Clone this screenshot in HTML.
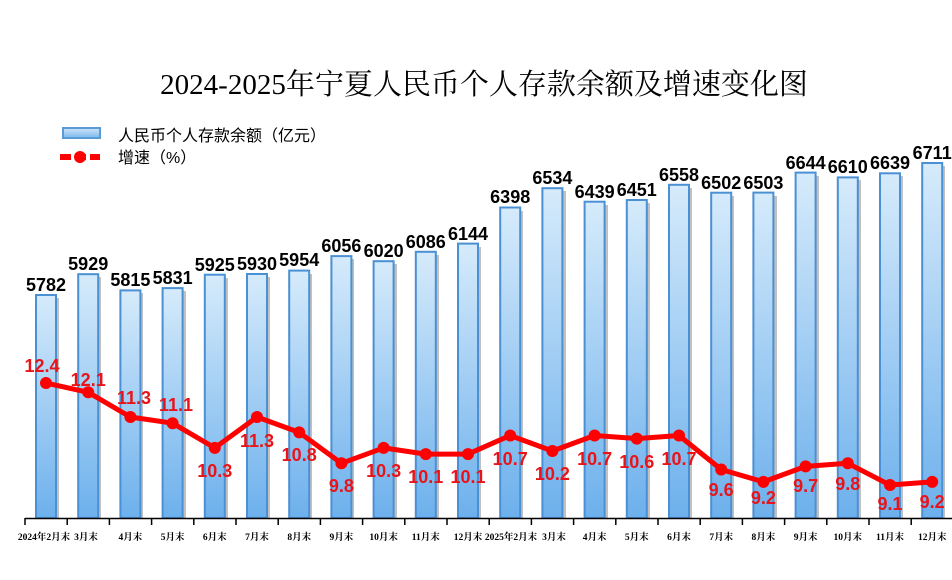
<!DOCTYPE html><html><head><meta charset="utf-8"><style>body{margin:0;background:#fff}svg{display:block}</style></head><body>
<svg width="952" height="580" xmlns="http://www.w3.org/2000/svg">
<defs>
<linearGradient id="g" x1="0" y1="0" x2="0" y2="1"><stop offset="0" stop-color="#d6ebfb"/><stop offset="1" stop-color="#6db0ec"/></linearGradient>
<linearGradient id="lg" x1="0" y1="0" x2="0" y2="1"><stop offset="0" stop-color="#cfe6fa"/><stop offset="1" stop-color="#7ab8ee"/></linearGradient>
</defs>
<text x="484" y="94" text-anchor="middle" font-family="'Liberation Serif','Noto Serif CJK SC',serif" font-size="29" fill="#000">2024-2025年宁夏人民币个人存款余额及增速变化图</text>
<rect x="63" y="128" width="37" height="10" fill="url(#lg)" stroke="#5b9bd5" stroke-width="2"/>
<text x="118" y="141" font-family="'Liberation Sans','Noto Sans CJK SC',sans-serif" font-size="16">人民币个人存款余额（亿元）</text>
<line x1="60" y1="157" x2="100" y2="157" stroke="#f00" stroke-width="6" stroke-dasharray="11,4"/>
<circle cx="80" cy="157" r="6" fill="#f00"/>
<text x="118" y="163" font-family="'Liberation Sans','Noto Sans CJK SC',sans-serif" font-size="16">增速（%）</text>
<g fill="#999" opacity="0.6">
<rect x="39" y="298" width="20" height="220"/><rect x="81" y="277" width="20" height="241"/><rect x="123" y="293" width="20" height="225"/><rect x="166" y="291" width="20" height="227"/><rect x="208" y="278" width="20" height="240"/><rect x="250" y="277" width="20" height="241"/><rect x="292" y="274" width="20" height="244"/><rect x="334" y="259" width="20" height="259"/><rect x="377" y="264" width="20" height="254"/><rect x="419" y="255" width="20" height="263"/><rect x="461" y="247" width="20" height="271"/><rect x="503" y="211" width="20" height="307"/><rect x="546" y="191" width="20" height="327"/><rect x="588" y="205" width="20" height="313"/><rect x="630" y="203" width="20" height="315"/><rect x="672" y="188" width="20" height="330"/><rect x="714" y="196" width="20" height="322"/><rect x="757" y="196" width="20" height="322"/><rect x="799" y="176" width="20" height="342"/><rect x="841" y="180" width="20" height="338"/><rect x="883" y="176" width="20" height="342"/><rect x="925" y="166" width="20" height="352"/>
</g>
<g fill="url(#g)" stroke="#4a90d4" stroke-width="2">
<rect x="36" y="295" width="20" height="223"/><rect x="78.2" y="274.2" width="20" height="243.8"/><rect x="120.4" y="290.4" width="20" height="227.6"/><rect x="162.6" y="288.1" width="20" height="229.9"/><rect x="204.8" y="274.7" width="20" height="243.3"/><rect x="247" y="274" width="20" height="244"/><rect x="289.2" y="270.6" width="20" height="247.4"/><rect x="331.4" y="256.1" width="20" height="261.9"/><rect x="373.6" y="261.2" width="20" height="256.8"/><rect x="415.8" y="251.8" width="20" height="266.2"/><rect x="458" y="243.6" width="20" height="274.4"/><rect x="500.2" y="207.5" width="20" height="310.5"/><rect x="542.4" y="188.2" width="20" height="329.8"/><rect x="584.6" y="201.7" width="20" height="316.3"/><rect x="626.8" y="200" width="20" height="318"/><rect x="669" y="184.8" width="20" height="333.2"/><rect x="711.2" y="192.7" width="20" height="325.3"/><rect x="753.4" y="192.6" width="20" height="325.4"/><rect x="795.6" y="172.6" width="20" height="345.4"/><rect x="837.8" y="177.4" width="20" height="340.6"/><rect x="880" y="173.3" width="20" height="344.7"/><rect x="922.2" y="163" width="20" height="355"/>
</g>
<g font-family="'Liberation Sans',sans-serif" font-size="18" font-weight="bold" text-anchor="middle" fill="#000">
<text x="46" y="291">5782</text><text x="88.2" y="270">5929</text><text x="130.4" y="286">5815</text><text x="172.6" y="284">5831</text><text x="214.8" y="271">5925</text><text x="257" y="270">5930</text><text x="299.2" y="266">5954</text><text x="341.4" y="252">6056</text><text x="383.6" y="257">6020</text><text x="425.8" y="248">6086</text><text x="468" y="240">6144</text><text x="510.2" y="203">6398</text><text x="552.4" y="184">6534</text><text x="594.6" y="198">6439</text><text x="636.8" y="196">6451</text><text x="679" y="181">6558</text><text x="721.2" y="189">6502</text><text x="763.4" y="189">6503</text><text x="805.6" y="169">6644</text><text x="847.8" y="173">6610</text><text x="890" y="169">6639</text><text x="932.2" y="159">6711</text>
</g>
<polyline fill="none" stroke="#f00" stroke-width="5" stroke-linejoin="round" points="46,383 88.2,392.3 130.4,417 172.6,423.2 214.8,447.9 257,417 299.2,432.4 341.4,463.3 383.6,447.9 425.8,454.1 468,454.1 510.2,435.5 552.4,451 594.6,435.5 636.8,438.6 679,435.5 721.2,469.5 763.4,481.9 805.6,466.4 847.8,463.3 890,485 932.2,481.9"/>
<g fill="#f00">
<circle cx="46" cy="383" r="6"/><circle cx="88.2" cy="392.3" r="6"/><circle cx="130.4" cy="417" r="6"/><circle cx="172.6" cy="423.2" r="6"/><circle cx="214.8" cy="447.9" r="6"/><circle cx="257" cy="417" r="6"/><circle cx="299.2" cy="432.4" r="6"/><circle cx="341.4" cy="463.3" r="6"/><circle cx="383.6" cy="447.9" r="6"/><circle cx="425.8" cy="454.1" r="6"/><circle cx="468" cy="454.1" r="6"/><circle cx="510.2" cy="435.5" r="6"/><circle cx="552.4" cy="451" r="6"/><circle cx="594.6" cy="435.5" r="6"/><circle cx="636.8" cy="438.6" r="6"/><circle cx="679" cy="435.5" r="6"/><circle cx="721.2" cy="469.5" r="6"/><circle cx="763.4" cy="481.9" r="6"/><circle cx="805.6" cy="466.4" r="6"/><circle cx="847.8" cy="463.3" r="6"/><circle cx="890" cy="485" r="6"/><circle cx="932.2" cy="481.9" r="6"/>
</g>
<g font-family="'Liberation Sans',sans-serif" font-size="18" font-weight="bold" text-anchor="middle" fill="#e8141a">
<text x="42" y="372">12.4</text><text x="88.2" y="386">12.1</text><text x="134" y="404">11.3</text><text x="176" y="411">11.1</text><text x="214.8" y="477">10.3</text><text x="257" y="447">11.3</text><text x="299.2" y="461">10.8</text><text x="341.4" y="492">9.8</text><text x="383.6" y="477">10.3</text><text x="425.8" y="483">10.1</text><text x="468" y="483">10.1</text><text x="510.2" y="465">10.7</text><text x="552.4" y="480">10.2</text><text x="594.6" y="465">10.7</text><text x="636.8" y="468">10.6</text><text x="679" y="465">10.7</text><text x="721.2" y="496">9.6</text><text x="763.4" y="504">9.2</text><text x="805.6" y="492">9.7</text><text x="847.8" y="490">9.8</text><text x="890" y="510">9.1</text><text x="932.2" y="508">9.2</text>
</g>
<line x1="25" y1="518.5" x2="952" y2="518.5" stroke="#000" stroke-width="1.5"/>
<g stroke="#000" stroke-width="1.5">
<line x1="25" y1="518" x2="25" y2="525"/><line x1="67.2" y1="518" x2="67.2" y2="525"/><line x1="109.4" y1="518" x2="109.4" y2="525"/><line x1="151.6" y1="518" x2="151.6" y2="525"/><line x1="193.8" y1="518" x2="193.8" y2="525"/><line x1="236" y1="518" x2="236" y2="525"/><line x1="278.2" y1="518" x2="278.2" y2="525"/><line x1="320.4" y1="518" x2="320.4" y2="525"/><line x1="362.6" y1="518" x2="362.6" y2="525"/><line x1="404.8" y1="518" x2="404.8" y2="525"/><line x1="447" y1="518" x2="447" y2="525"/><line x1="489.2" y1="518" x2="489.2" y2="525"/><line x1="531.4" y1="518" x2="531.4" y2="525"/><line x1="573.6" y1="518" x2="573.6" y2="525"/><line x1="615.8" y1="518" x2="615.8" y2="525"/><line x1="658" y1="518" x2="658" y2="525"/><line x1="700.2" y1="518" x2="700.2" y2="525"/><line x1="742.4" y1="518" x2="742.4" y2="525"/><line x1="784.6" y1="518" x2="784.6" y2="525"/><line x1="826.8" y1="518" x2="826.8" y2="525"/><line x1="869" y1="518" x2="869" y2="525"/><line x1="911.2" y1="518" x2="911.2" y2="525"/>
</g>
<g font-family="'Liberation Serif','Noto Serif CJK SC',serif" font-size="9.5" font-weight="bold" text-anchor="middle" fill="#000">
<text x="44" y="540">2024年2月末</text><text x="86" y="540">3月末</text><text x="130.4" y="540">4月末</text><text x="172.6" y="540">5月末</text><text x="214.8" y="540">6月末</text><text x="257" y="540">7月末</text><text x="299.2" y="540">8月末</text><text x="341.4" y="540">9月末</text><text x="383.6" y="540">10月末</text><text x="425.8" y="540">11月末</text><text x="468" y="540">12月末</text><text x="511" y="540">2025年2月末</text><text x="554" y="540">3月末</text><text x="594.6" y="540">4月末</text><text x="636.8" y="540">5月末</text><text x="679" y="540">6月末</text><text x="721.2" y="540">7月末</text><text x="763.4" y="540">8月末</text><text x="805.6" y="540">9月末</text><text x="847.8" y="540">10月末</text><text x="890" y="540">11月末</text><text x="932.2" y="540">12月末</text>
</g>
</svg>
</body></html>
